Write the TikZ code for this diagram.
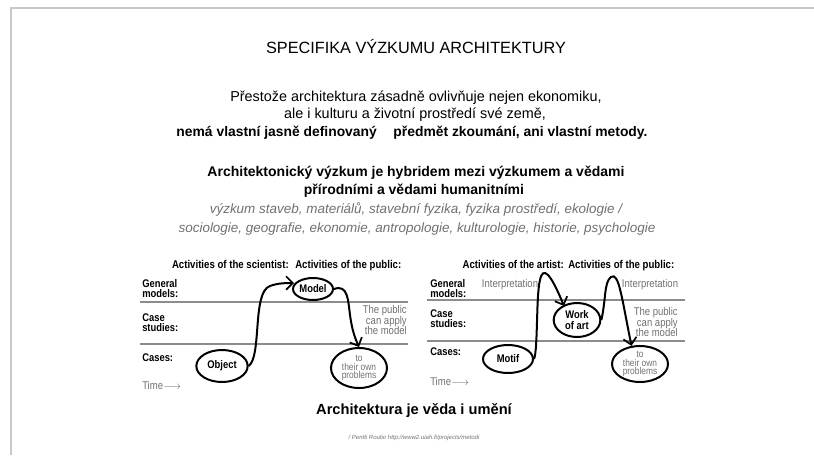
\documentclass[tikz,border=0pt]{standalone}
\usepackage{fontspec}
\setmainfont{Liberation Sans}
\newfontfamily\narrowfont[FakeStretch=0.85]{Liberation Sans}
\usetikzlibrary{arrows.meta,shapes.geometric}
\definecolor{framegray}{HTML}{C8C8C8}
\definecolor{linegray}{HTML}{8C8C8C}
\definecolor{textgray}{HTML}{707070}
\begin{document}
\begin{tikzpicture}[x=0.75pt,y=-0.75pt,
  txt/.style={anchor=base,inner sep=0pt,font=\fontsize{10.8}{12}\selectfont},
  hdr/.style={anchor=base,inner sep=0pt,font=\narrowfont\bfseries\fontsize{8.5}{10}\selectfont},
  lbl/.style={anchor=north west,align=left,inner sep=0pt,font=\narrowfont\bfseries\fontsize{8.3}{7.5}\selectfont},
  gtxt/.style={text=textgray,inner sep=0pt,font=\narrowfont\fontsize{8.4}{8}\selectfont},
  blob/.style={ellipse,draw,line width=1.5pt,inner sep=0pt,align=center,font=\narrowfont\bfseries\fontsize{8.3}{8.5}\selectfont},
  ptext/.style={inner sep=0pt,align=center,text=textgray,font=\narrowfont\fontsize{7.4}{6.4}\selectfont},
  hand/.style={line width=1.5pt,-{Straight Barb[length=5pt,width=10pt,line width=1.3pt]}},
  sepline/.style={linegray,line width=1.1pt}]
\useasboundingbox (0,0) rectangle (814,455);
\draw[framegray,line width=1.5pt] (11,455) -- (11,8) -- (814,8);

% texts
\node[txt,font=\fontsize{12.2}{14}\selectfont] (title) at (416,53) {SPECIFIKA VÝZKUMU ARCHITEKTURY};
\node[txt] (l1) at (416,101) {Přestože architektura zásadně ovlivňuje nejen ekonomiku,};
\node[txt] (l2) at (415,118) {ale i kulturu a životní prostředí své země,};
\node[txt,font=\bfseries\fontsize{10.4}{12}\selectfont] (l3) at (412,136) {nemá vlastní jasně definovaný\hspace{1.2em}předmět zkoumání, ani vlastní metody.};
\node[txt,font=\bfseries\fontsize{10.5}{12}\selectfont] (l4) at (416,176) {Architektonický výzkum je hybridem mezi výzkumem a vědami};
\node[txt,font=\bfseries\fontsize{10.5}{12}\selectfont] (l5) at (414,194) {přírodními a vědami humanitními};
\node[txt,text=textgray,font=\itshape\fontsize{10.1}{11}\selectfont] (l6) at (416,213) {výzkum staveb, materiálů, stavební fyzika, fyzika prostředí, ekologie /};
\node[txt,text=textgray,font=\itshape\fontsize{10.1}{11}\selectfont] (l7) at (417,232) {sociologie, geografie, ekonomie, antropologie, kulturologie, historie, psychologie};
\node[txt,font=\bfseries\fontsize{11}{13}\selectfont] (l8) at (414,414) {Architektura je věda i umění};
\node[txt,text=textgray,font=\itshape\fontsize{4.5}{5}\selectfont] (l9) at (414,439) {/ Pentti Routio http://www2.uiah.fi/projects/metodi};

% ---------- left diagram
\node[hdr,anchor=base east] (hsci) at (289,268) {Activities of the scientist:};
\node[hdr,anchor=base west] (hpub1) at (295,268) {Activities of the public:};
\node[lbl] (gm1) at (142,279) {General\\models:};
\node[lbl] (cs1) at (142,313) {Case\\studies:};
\node[lbl] (ca1) at (142,353) {Cases:};
\node[gtxt,anchor=base west] (tm1) at (142,389) {Time$\longrightarrow$};
\draw[sepline] (140,302) coordinate (s1a) -- (408,302) coordinate (s1b);
\draw[sepline] (140,344) coordinate (s2a) -- (408,344) coordinate (s2b);
\node[blob,minimum width=38.5pt,minimum height=24pt] (obj) at (222,366) {Object};
\node[blob,minimum width=30pt,minimum height=16.5pt] (mod) at (313,289) {Model};
\node[blob,minimum width=42pt,minimum height=30pt] (prb1) at (359,368) {};
\node[ptext] (prb1t) at (prb1) {to\\their own\\problems};
\node[gtxt,align=right,anchor=north east] (pub1) at (407,305) {The public\\can apply\\the model};
\coordinate (a1end) at (294,283);
\draw[hand] (obj.east) .. controls (262,356) and (252,292) .. (270,286) .. controls (278,283) and (286,283) .. (a1end);
\draw[hand] (mod.east) .. controls (348,284) and (348,300) .. (350,315) .. controls (352,330) and (355,338) .. (prb1.north);

% ---------- right diagram
\node[hdr,anchor=base east] (hart) at (564,268) {Activities of the artist:};
\node[hdr,anchor=base west] (hpub2) at (568,268) {Activities of the public:};
\node[lbl] (gm2) at (430,279) {General\\models:};
\node[lbl] (cs2) at (430,309) {Case\\studies:};
\node[lbl] (ca2) at (430,347) {Cases:};
\node[gtxt,anchor=base west] (tm2) at (430,385) {Time$\longrightarrow$};
\node[gtxt] (int1) at (510,285) {Interpretation};
\node[gtxt] (int2) at (650,285) {Interpretation};
\draw[sepline] (427,300) coordinate (s3a) -- (685,300) coordinate (s3b);
\draw[sepline] (427,341) coordinate (s4a) -- (685,341) coordinate (s4b);
\node[blob,minimum width=37.5pt,minimum height=21pt] (mot) at (508,359) {Motif};
\node[blob,minimum width=35pt,minimum height=25.5pt] (woa) at (577,320) {};
\node[inner sep=0pt,align=center,font=\narrowfont\bfseries\fontsize{8.3}{8.3}\selectfont] (woat) at (woa) {Work\\of art};
\node[blob,minimum width=42pt,minimum height=27pt] (prb2) at (640,364) {};
\node[ptext] (prb2t) at (prb2) {to\\their own\\problems};
\node[gtxt,align=right,anchor=north east] (pub2) at (678,307) {The public\\can apply\\the model};
\coordinate (a3end) at (564,306);
\draw[hand] (mot.east) .. controls (538,350) and (536,295) .. (540,280) .. controls (543,266) and (550,272) .. (a3end);
\draw[hand] (woa.east) .. controls (606,300) and (604,282) .. (611,277) .. controls (619,271) and (622,300) .. (prb2.115);
\end{tikzpicture}
\end{document}
